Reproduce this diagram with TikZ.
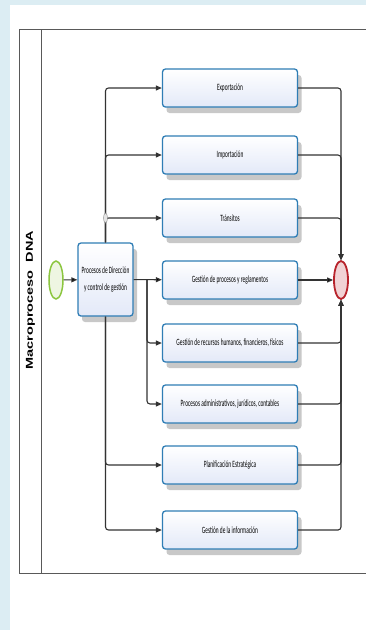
\documentclass[tikz,border=0pt]{standalone}
\usepackage{fontspec}
\setsansfont{Liberation Sans}
\newfontfamily\carlito{Carlito}
\usetikzlibrary{positioning,shapes.geometric,arrows.meta,shadows}

\definecolor{fondo}{HTML}{DCEDF3}
\definecolor{azul}{HTML}{2F7DB5}
\definecolor{lila}{HTML}{E3E9F8}
\definecolor{verde}{HTML}{8CC63F}
\definecolor{rojo}{HTML}{B8242C}

\newcommand{\sq}[1]{\scalebox{0.56}[1]{#1}}

\begin{document}
\begin{tikzpicture}[x=1pt,y=-1pt,on grid,
    tarea/.style={draw=azul, line width=1.3pt, rounded corners=3pt,
        minimum width=135pt, minimum height=38pt, inner sep=0pt,
        top color=white, bottom color=lila, align=center,
        drop shadow={shadow xshift=4pt, shadow yshift=-6pt, fill=black!30, opacity=.7},
        font=\carlito\fontsize{9.6}{16.5}\selectfont},
    flujo/.style={draw=black!80, line width=1.1pt, rounded corners=3pt,
        -{Triangle[length=6pt,width=5pt]}},
    pool/.style={draw=black!65, line width=1pt}]
    \useasboundingbox (0,0) rectangle (366,630);
    \fill[fondo] (0,0) rectangle (366,630);
    \fill[white] (10,5) rectangle (366,630);
    % pool
    \draw[pool] (366,29) -- (19,29) -- (19,573) -- (366,573);
    \draw[pool] (41,29) -- (41,573);
    \node[rotate=90, font=\sffamily\bfseries\fontsize{10}{12}\selectfont] (lbl) at (30.5,300)
        {\scalebox{1.45}[1]{Macroproceso\ \ DNA}};

    \node[ellipse, draw=verde, line width=1.5pt, fill=verde!15, minimum width=14pt, minimum height=38pt, inner sep=0pt] (ini) at (56,280) {};
    \node[tarea, minimum width=55pt, minimum height=73pt] (main) at (105.5,279.5)
        {\sq{Procesos de Dirección}\\\sq{y control de gestión}};
    \node[tarea] (gpr) at (230,280) {\sq{Gestión de procesos y reglamentos}};
    \node[tarea, above=62pt of gpr] (tra) {\sq{Tránsitos}};
    \node[tarea, above=63pt of tra] (imp) {\sq{Importación}};
    \node[tarea, above=67pt of imp] (exp) {\sq{Exportación}};
    \node[tarea, below=63pt of gpr] (rh) {\sq{Gestión de recursos humanos, financieros, físicos}};
    \node[tarea, below=61pt of rh] (adm) {\sq{Procesos administrativos, jurídicos, contables}};
    \node[tarea, below=61pt of adm] (pla) {\sq{Planificación Estratégica}};
    \node[tarea, below=65pt of pla] (inf) {\sq{Gestión de la información}};
    \node[ellipse, draw=rojo, line width=1.8pt, fill=rojo!20, minimum width=14pt, minimum height=38pt, inner sep=0pt, right=111pt of gpr] (fin) {};

    \path[flujo]
    (ini) edge (main)
    (main) edge (gpr)
    (gpr) edge (fin);

    \draw[flujo] (main.north) |- (exp.west);
    \draw[flujo] (main.north) |- (imp.west);
    \draw[flujo] (main.north) |- (tra.west);
    \draw[flujo] (main.south) |- (pla.west);
    \draw[flujo] (main.south) |- (inf.west);
    \node[ellipse, draw=black!50, fill=black!10, minimum width=4pt, minimum height=10pt, inner sep=0pt] (cnd) at (main.north |- tra.west) {};

    \coordinate (split) at (147,280);
    \draw[flujo] (split) |- (rh.west);
    \draw[flujo] (split) |- (adm.west);

    \foreach \t in {exp,imp,tra}
        \draw[flujo] (\t.east) -| (fin.north);
    \foreach \t in {rh,adm,pla,inf}
        \draw[flujo] (\t.east) -| (fin.south);
\end{tikzpicture}
\end{document}
